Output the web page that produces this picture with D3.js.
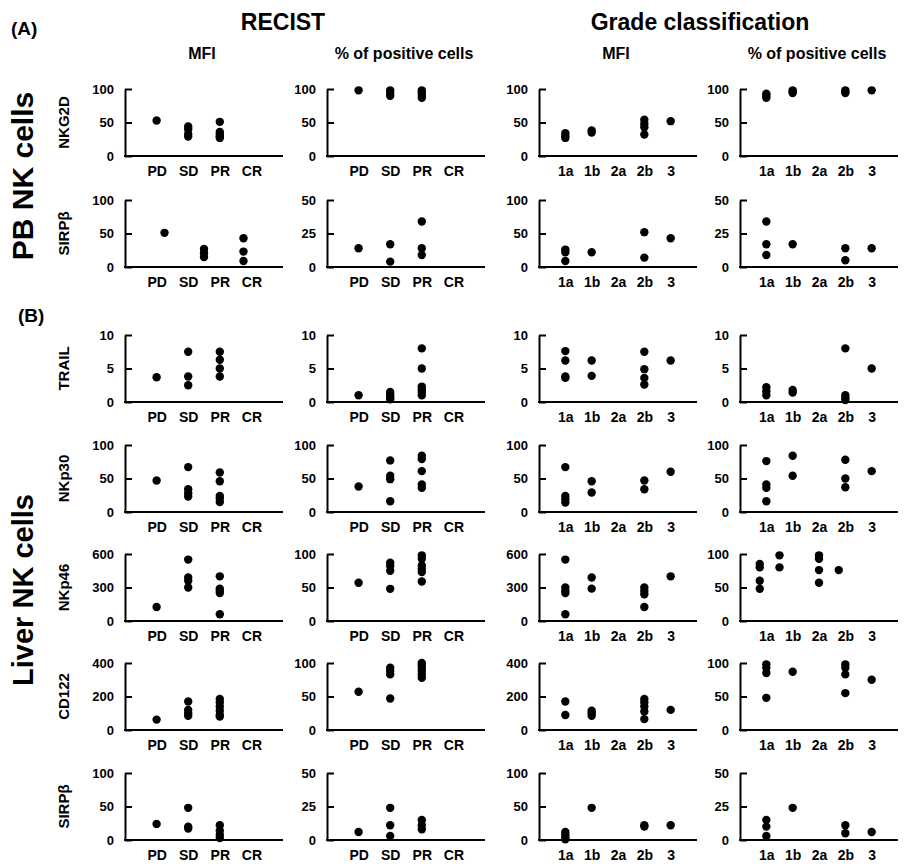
<!DOCTYPE html>
<html><head><meta charset="utf-8">
<script src="https://cdn.jsdelivr.net/npm/d3@7"></script>
<style>
body{margin:0;background:#fff}
text{font-family:"Liberation Sans",Arial,sans-serif;font-weight:bold;fill:#000}
</style>
</head><body>
<svg id="chart" width="906" height="868"></svg>
<script>
// ---------- categories & labels ----------
const recistCats = ["PD","SD","PR","CR"];
const gradeCats  = ["1a","1b","2a","2b","3"];
const rowMarkers = ["NKG2D","SIRPβ","TRAIL","NKp30","NKp46","CD122","SIRPβ"];
const mfiMax   = [100,100,10,100,600,400,100];
const pctMax   = [100,50,10,100,100,100,50];
const mfiTicks = [[0,50,100],[0,50,100],[0,5,10],[0,50,100],[0,300,600],[0,200,400],[0,50,100]];
const pctTicks = [[0,50,100],[0,25,50],[0,5,10],[0,50,100],[0,50,100],[0,50,100],[0,25,50]];

// ---------- values (one inner array per category) ----------
// PB NK cells
const pbNkg2dRecistMfi = [[53],[44,40,33,29],[51,36,32,29,27],[]];
const pbNkg2dRecistPct = [[98],[98,94,90],[98,95,91,87],[]];
const pbNkg2dGradeMfi  = [[34,30,27],[38,35],[],[54,48,43,32],[52]];
const pbNkg2dGradePct  = [[93,90,87],[98,96,94],[],[98,96,94],[98]];

const pbSirpRecistMfiCats = ["PD","PR","CR"];           // this graph was drawn with 3 groups
const pbSirpRecistMfi = [[51],[27,21,15],[43,23,9]];
const pbSirpRecistPct = [[14],[17,4],[34,14,9],[]];
const pbSirpGradeMfi  = [[26,22,9],[22],[],[52,14],[43]];
const pbSirpGradePct  = [[34,17,9],[17],[],[14,5],[14]];

// Liver NK cells
const lvTrailRecistMfi = [[3.7],[7.5,3.8,2.5],[7.5,6.3,5.0,3.8],[]];
const lvTrailRecistPct = [[1.0],[1.5,1.1,0.7,0.4],[8.0,5.0,2.3,1.9,1.5,1.0],[]];
const lvTrailGradeMfi  = [[7.6,6.2,3.8,3.6],[6.2,3.9],[],[7.5,4.9,3.6,2.6],[6.2]];
const lvTrailGradePct  = [[2.2,1.6,1.0],[1.8,1.4],[],[8.0,1.0,0.6,0.3],[5.0]];

const lvNkp30RecistMfi = [[47],[67,34,28,23],[59,46,24,20,15],[]];
const lvNkp30RecistPct = [[38],[77,54,49,16],[84,79,61,41,36],[]];
const lvNkp30GradeMfi  = [[67,24,19,14],[46,29],[],[47,34],[60]];
const lvNkp30GradePct  = [[76,41,36,16],[84,54],[],[78,50,37],[61]];

const lvNkp46RecistMfi = [[125],[550,390,360,300],[400,290,270,250,60],[]];
const lvNkp46RecistPct = [[57],[87,82,75,48],[98,93,83,78,73,59],[]];
const lvNkp46GradeMfi  = [[550,300,270,250,60],[390,290],[],[300,270,240,125],[400]];
// this graph's groups were plotted on a 7-slot grid (slots 1,2,4,5)
const lvNkp46GradePctSlots = ["s1","s2","s3","s4","s5","s6","s7"];
const lvNkp46GradePctUsed  = ["s1","s2","s4","s5"];
const lvNkp46GradePct  = [[85,80,60,48],[98,80],[98,93,76,57],[76]];

const lvCd122RecistMfi = [[62],[170,120,100,85],[185,165,140,115,90,80],[]];
const lvCd122RecistPct = [[57],[93,88,83,47],[100,97,93,88,83,78],[]];
const lvCd122GradeMfi  = [[170,90],[115,100,85],[],[185,165,140,110,65],[120]];
const lvCd122GradePct  = [[98,93,85,48],[87],[],[98,93,83,55],[75]];

const lvSirpRecistMfi = [[24],[48,20,17],[22,14,8,3],[]];
const lvSirpRecistPct = [[6],[24,11,3],[15,11,8],[]];
const lvSirpGradeMfi  = [[12,8,4,1],[48],[],[22,20],[22]];
const lvSirpGradePct  = [[15,10,3],[24],[],[11,5],[6]];

// ---------- build panel table ----------
const rowData = [
  [pbNkg2dRecistMfi, pbNkg2dRecistPct, pbNkg2dGradeMfi, pbNkg2dGradePct],
  [pbSirpRecistMfi,  pbSirpRecistPct,  pbSirpGradeMfi,  pbSirpGradePct],
  [lvTrailRecistMfi, lvTrailRecistPct, lvTrailGradeMfi, lvTrailGradePct],
  [lvNkp30RecistMfi, lvNkp30RecistPct, lvNkp30GradeMfi, lvNkp30GradePct],
  [lvNkp46RecistMfi, lvNkp46RecistPct, lvNkp46GradeMfi, lvNkp46GradePct],
  [lvCd122RecistMfi, lvCd122RecistPct, lvCd122GradeMfi, lvCd122GradePct],
  [lvSirpRecistMfi,  lvSirpRecistPct,  lvSirpGradeMfi,  lvSirpGradePct]
];
// dot-position domains that differ from the printed category labels
const dotDomainOverride = {
  "1-0": {domain: pbSirpRecistMfiCats, used: pbSirpRecistMfiCats},
  "4-3": {domain: lvNkp46GradePctSlots, used: lvNkp46GradePctUsed}
};

// ---------- layout ----------
const colX = [125, 327, 539, 740];
const rowY = [89, 200, 335, 445, 554, 663, 773];
const pw = 158, ph = 67;
const FONT = '"Liberation Sans",Arial,sans-serif';

const svg = d3.select("#chart");
svg.append("rect").attr("width",906).attr("height",868).attr("fill","#fff");

// headings
svg.append("text").attr("x",11).attr("y",35).style("font-size","19px").text("(A)");
svg.append("text").attr("x",18).attr("y",322).style("font-size","19px").text("(B)");
svg.append("text").attr("x",283).attr("y",30).attr("text-anchor","middle").style("font-size","23px").text("RECIST");
svg.append("text").attr("x",700).attr("y",30).attr("text-anchor","middle").style("font-size","23px").text("Grade classification");
const colTitles = ["MFI","% of positive cells","MFI","% of positive cells"];
colTitles.forEach((t,i)=>{
  svg.append("text").attr("x",colX[i]+pw/2-2).attr("y",59).attr("text-anchor","middle")
    .style("font-size","16px").text(t);
});
// big side labels
svg.append("text").attr("transform","translate(22,176) rotate(-90)").attr("text-anchor","middle")
  .attr("dominant-baseline","central").style("font-size","30px").text("PB NK cells");
svg.append("text").attr("transform","translate(23,590) rotate(-90)").attr("text-anchor","middle")
  .attr("dominant-baseline","central").style("font-size","29px").text("Liver NK cells");

rowData.forEach((panels, r) => {
  // marker title
  svg.append("text").attr("transform",`translate(63,${rowY[r]+ph/2}) rotate(-90)`)
    .attr("text-anchor","middle").attr("dominant-baseline","central")
    .style("font-size","15px").text(rowMarkers[r]);

  panels.forEach((vals, c) => {
    const cats = c < 2 ? recistCats : gradeCats;
    const max = c % 2 === 0 ? mfiMax[r] : pctMax[r];
    const ticks = c % 2 === 0 ? mfiTicks[r] : pctTicks[r];
    const g = svg.append("g").attr("transform",`translate(${colX[c]},${rowY[r]})`);

    const x = d3.scalePoint().domain(cats).range([0,pw]).padding(1);
    const ov = dotDomainOverride[`${r}-${c}`];
    const dotDomain = ov ? ov.domain : cats;
    const dotCats = ov ? ov.used : cats;
    const xd = d3.scalePoint().domain(dotDomain).range([0,pw]).padding(1);
    const y = d3.scaleLinear().domain([0,max]).range([ph,0]);

    // y axis
    const ya = g.append("g").call(d3.axisLeft(y).tickValues(ticks).tickSizeInner(-7).tickSizeOuter(0).tickPadding(11));
    ya.selectAll("path,line").attr("stroke","#000").attr("stroke-width",2);
    ya.selectAll("text").style("font-size","13px").style("font-family",FONT).style("font-weight","bold");

    // x axis (line + category labels)
    g.append("line").attr("x1",-1).attr("x2",pw).attr("y1",ph).attr("y2",ph)
      .attr("stroke","#000").attr("stroke-width",2);
    const xa = g.append("g").attr("transform",`translate(0,${ph})`)
      .call(d3.axisBottom(x).tickSize(0).tickPadding(10));
    xa.select(".domain").remove();
    xa.selectAll("text").style("font-size","14px").style("font-family",FONT).style("font-weight","bold");

    // dots
    const pts = [];
    vals.forEach((arr,i) => arr.forEach(v => pts.push({cat: dotCats[i], v})));
    g.selectAll("circle").data(pts).join("circle")
      .attr("cx", d => xd(d.cat)).attr("cy", d => y(d.v)).attr("r", 4.2).attr("fill","#000");
  });
});
</script>
</body></html>
